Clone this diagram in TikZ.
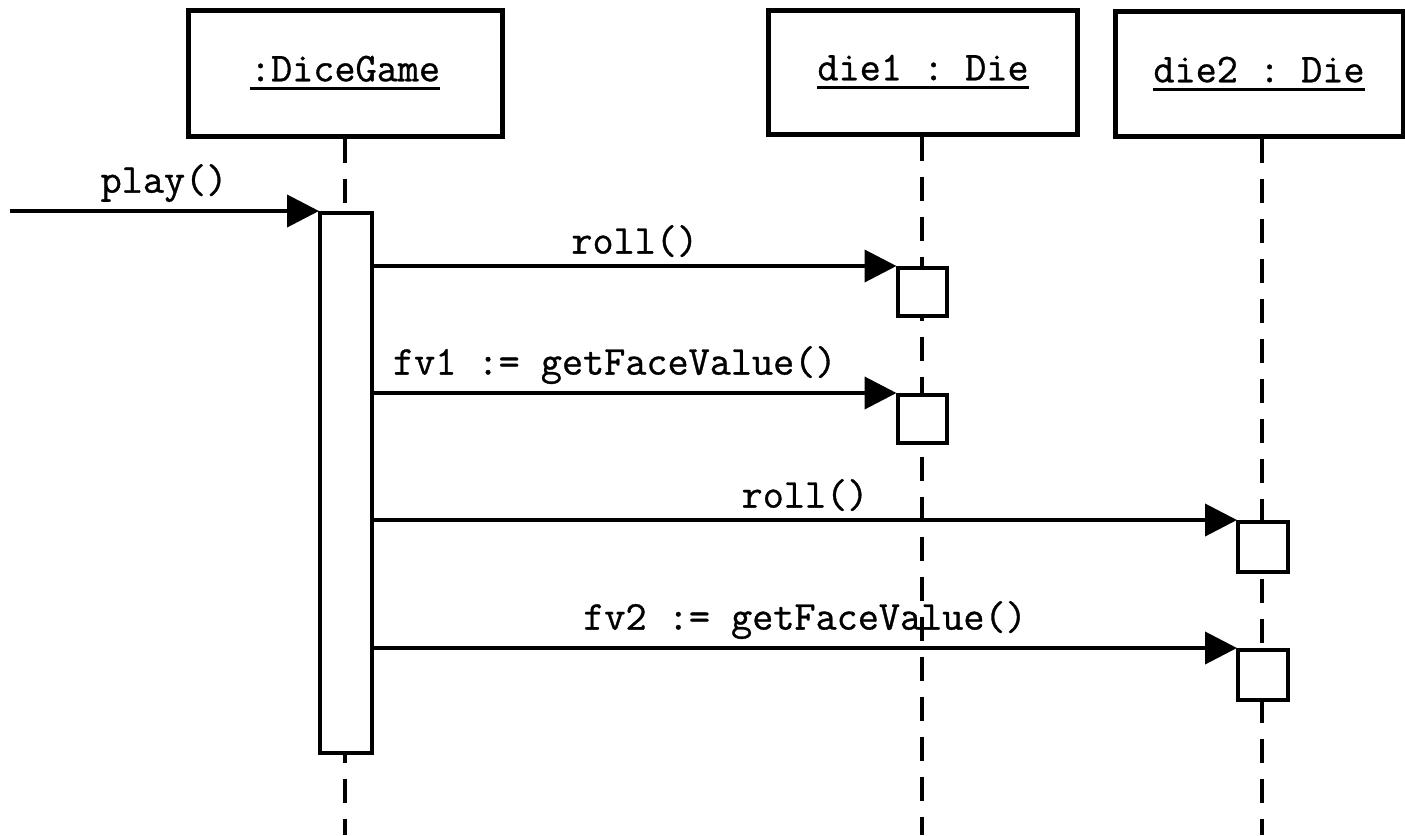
\documentclass[tikz,border=0pt]{standalone}
\usepackage{fontspec}
\setmonofont{Latin Modern Mono}[FakeBold=0.8]
\usetikzlibrary{arrows.meta}
\newcommand\objname[1]{\setbox0\hbox{#1}\rlap{\rule[-9pt]{\wd0}{3pt}}\box0}
\tikzset{
  lbl/.style={font=\ttfamily\fontsize{41}{48}\selectfont, inner sep=0pt},
  obj/.style={draw, line width=5pt, fill=white, lbl},
  act/.style={draw, line width=4pt, fill=white, inner sep=0pt},
  lifeline/.style={line width=4pt, dash pattern=on 24pt off 16pt},
  msg/.style={line width=4pt, -{Triangle[length=32pt,width=32pt]}, shorten >=-1pt},
  msglbl/.style={lbl, above=7pt, midway}
}
\begin{document}
\begin{tikzpicture}[x=1pt, y=-1pt]
  \useasboundingbox (0,0) rectangle (1405,835);

  % objects
  \node[obj, minimum width=314pt, minimum height=126pt] (dg) at (345,73) {\objname{:DiceGame}};
  \node[obj, minimum width=309pt, minimum height=124pt] (d1) at (923,72) {\objname{die1 : Die}};
  \node[obj, minimum width=288pt, minimum height=125pt] (d2) at (1259,74) {\objname{die2 : Die}};

  % lifeline ends
  \coordinate (dgend) at (345,835);
  \coordinate (d1end) at (922,835);
  \coordinate (d2end) at (1262,835);
  \draw[lifeline] (dg.south) -- (dgend);
  \draw[lifeline] (d1.south -| d1end) -- (d1end);
  \draw[lifeline] (d2.south -| d2end) -- (d2end);

  % activations
  \node[act, minimum width=52pt, minimum height=540pt] (a0) at (346,483) {};
  \node[act, minimum width=49pt, minimum height=48pt] (a1) at (922,292) {};
  \node[act, minimum width=49pt, minimum height=48pt] (a2) at (922,419) {};
  \node[act, minimum width=50pt, minimum height=50pt] (a3) at (1263,547) {};
  \node[act, minimum width=50pt, minimum height=50pt] (a4) at (1263,675) {};

  % messages
  \path (a0.north west) ++(-308,0) coordinate (caller);
  \draw[msg] (caller) -- (a0.north west) node[msglbl] {play()};
  \draw[msg] (a0.east |- a1.north) -- (a1.north west) node[msglbl] {roll()};
  \draw[msg] (a0.east |- a2.north) -- (a2.north west) node[msglbl, xshift=-20pt] {fv1 := getFaceValue()};
  \draw[msg] (a0.east |- a3.north) -- (a3.north west) node[msglbl] {roll()};
  \draw[msg] (a0.east |- a4.north) -- (a4.north west) node[msglbl] {fv2 := getFaceValue()};
\end{tikzpicture}
\end{document}
